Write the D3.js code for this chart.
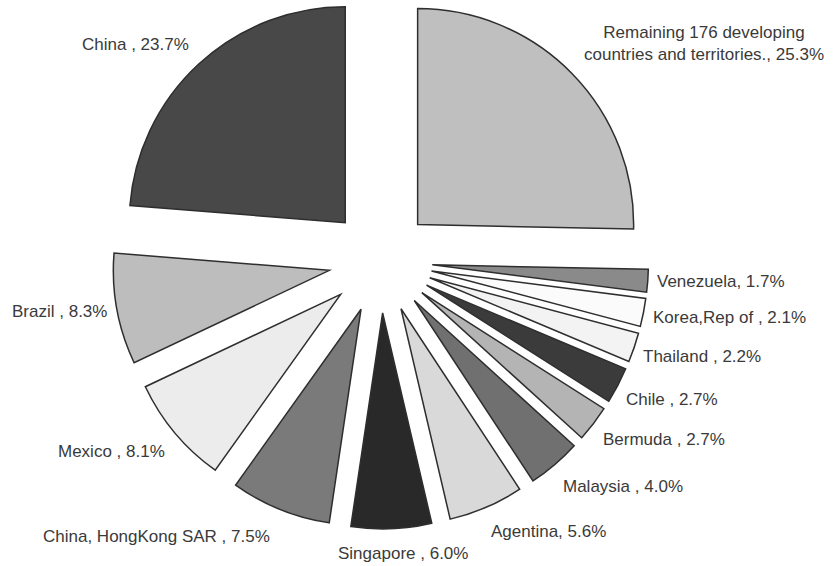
<!DOCTYPE html>
<html>
<head>
<meta charset="utf-8">
<script src="https://cdn.jsdelivr.net/npm/d3@7"></script>
<style>
  html, body { margin: 0; padding: 0; background: #fff; }
  text { font-family: "Liberation Sans", Arial, sans-serif; font-size: 17px; fill: #3a3a3a; }
</style>
</head>
<body>
<div id="chart"></div>
<script>
// shares, clockwise from 12 o'clock
var countries = ["Remaining 176 developing countries and territories.", "Venezuela", "Korea,Rep of ",
	"Thailand ", "Chile ", "Bermuda ", "Malaysia ", "Agentina", "Singapore ",
	"China, HongKong SAR ", "Mexico ", "Brazil ", "China "];
var shares = [25.3, 1.7, 2.1, 2.2, 2.7, 2.7, 4.0, 5.6, 6.0, 7.5, 8.1, 8.3, 23.7];
var fills = ["#bfbfbf", "#8a8a8a", "#fbfbfb", "#f3f3f3", "#3b3b3b", "#b4b4b4", "#707070",
	"#d9d9d9", "#292929", "#7a7a7a", "#ececec", "#bdbdbd", "#484848"];

// label anchors (left x, baseline y) as placed in the original
var labelPos = [[704, 38], [657, 287], [653, 323], [643, 362], [626, 405], [603, 445],
	[563, 492], [491, 537], [338, 559], [43, 542], [58, 457], [12, 317], [82, 50]];

var width = 833, height = 566;
var center = [380.5, 261];
var radius = 216;
var explode = 52;

var svg = d3.select("#chart").append("svg")
		.attr("width", width)
		.attr("height", height);

var pie = d3.pie().sort(null).value(function(d){ return d; });
var arcs = pie(shares);

var arc = d3.arc().innerRadius(0).outerRadius(radius);

var g = svg.append("g")
		.attr("transform", "translate(" + center[0] + "," + center[1] + ")");

g.selectAll(".slice").data(arcs)
	.enter().append("path")
		.attr("class", "slice")
		.attr("d", arc)
		.attr("transform", function(d){
			var a = (d.startAngle + d.endAngle) / 2;
			return "translate(" + (explode * Math.sin(a)) + "," + (-explode * Math.cos(a)) + ")";
		})
		.attr("fill", function(d,i){ return fills[i]; })
		.attr("stroke", "#2e2e2e")
		.attr("stroke-width", 1.5)
		.attr("stroke-linejoin", "miter");

var labels = svg.selectAll(".label").data(arcs)
	.enter().append("text")
		.attr("class", "label")
		.attr("x", function(d,i){ return labelPos[i][0]; })
		.attr("y", function(d,i){ return labelPos[i][1]; });

labels.each(function(d,i){
	var t = d3.select(this);
	var txt = countries[i] + ", " + shares[i].toFixed(1) + "%";
	if (i === 0) {
		// two-line label, centred
		t.attr("text-anchor", "middle");
		t.append("tspan").attr("x", labelPos[i][0]).text("Remaining 176 developing");
		t.append("tspan").attr("x", labelPos[i][0]).attr("dy", 22)
			.text("countries and territories., " + shares[i].toFixed(1) + "%");
	} else {
		t.text(txt);
	}
});
</script>
</body>
</html>
